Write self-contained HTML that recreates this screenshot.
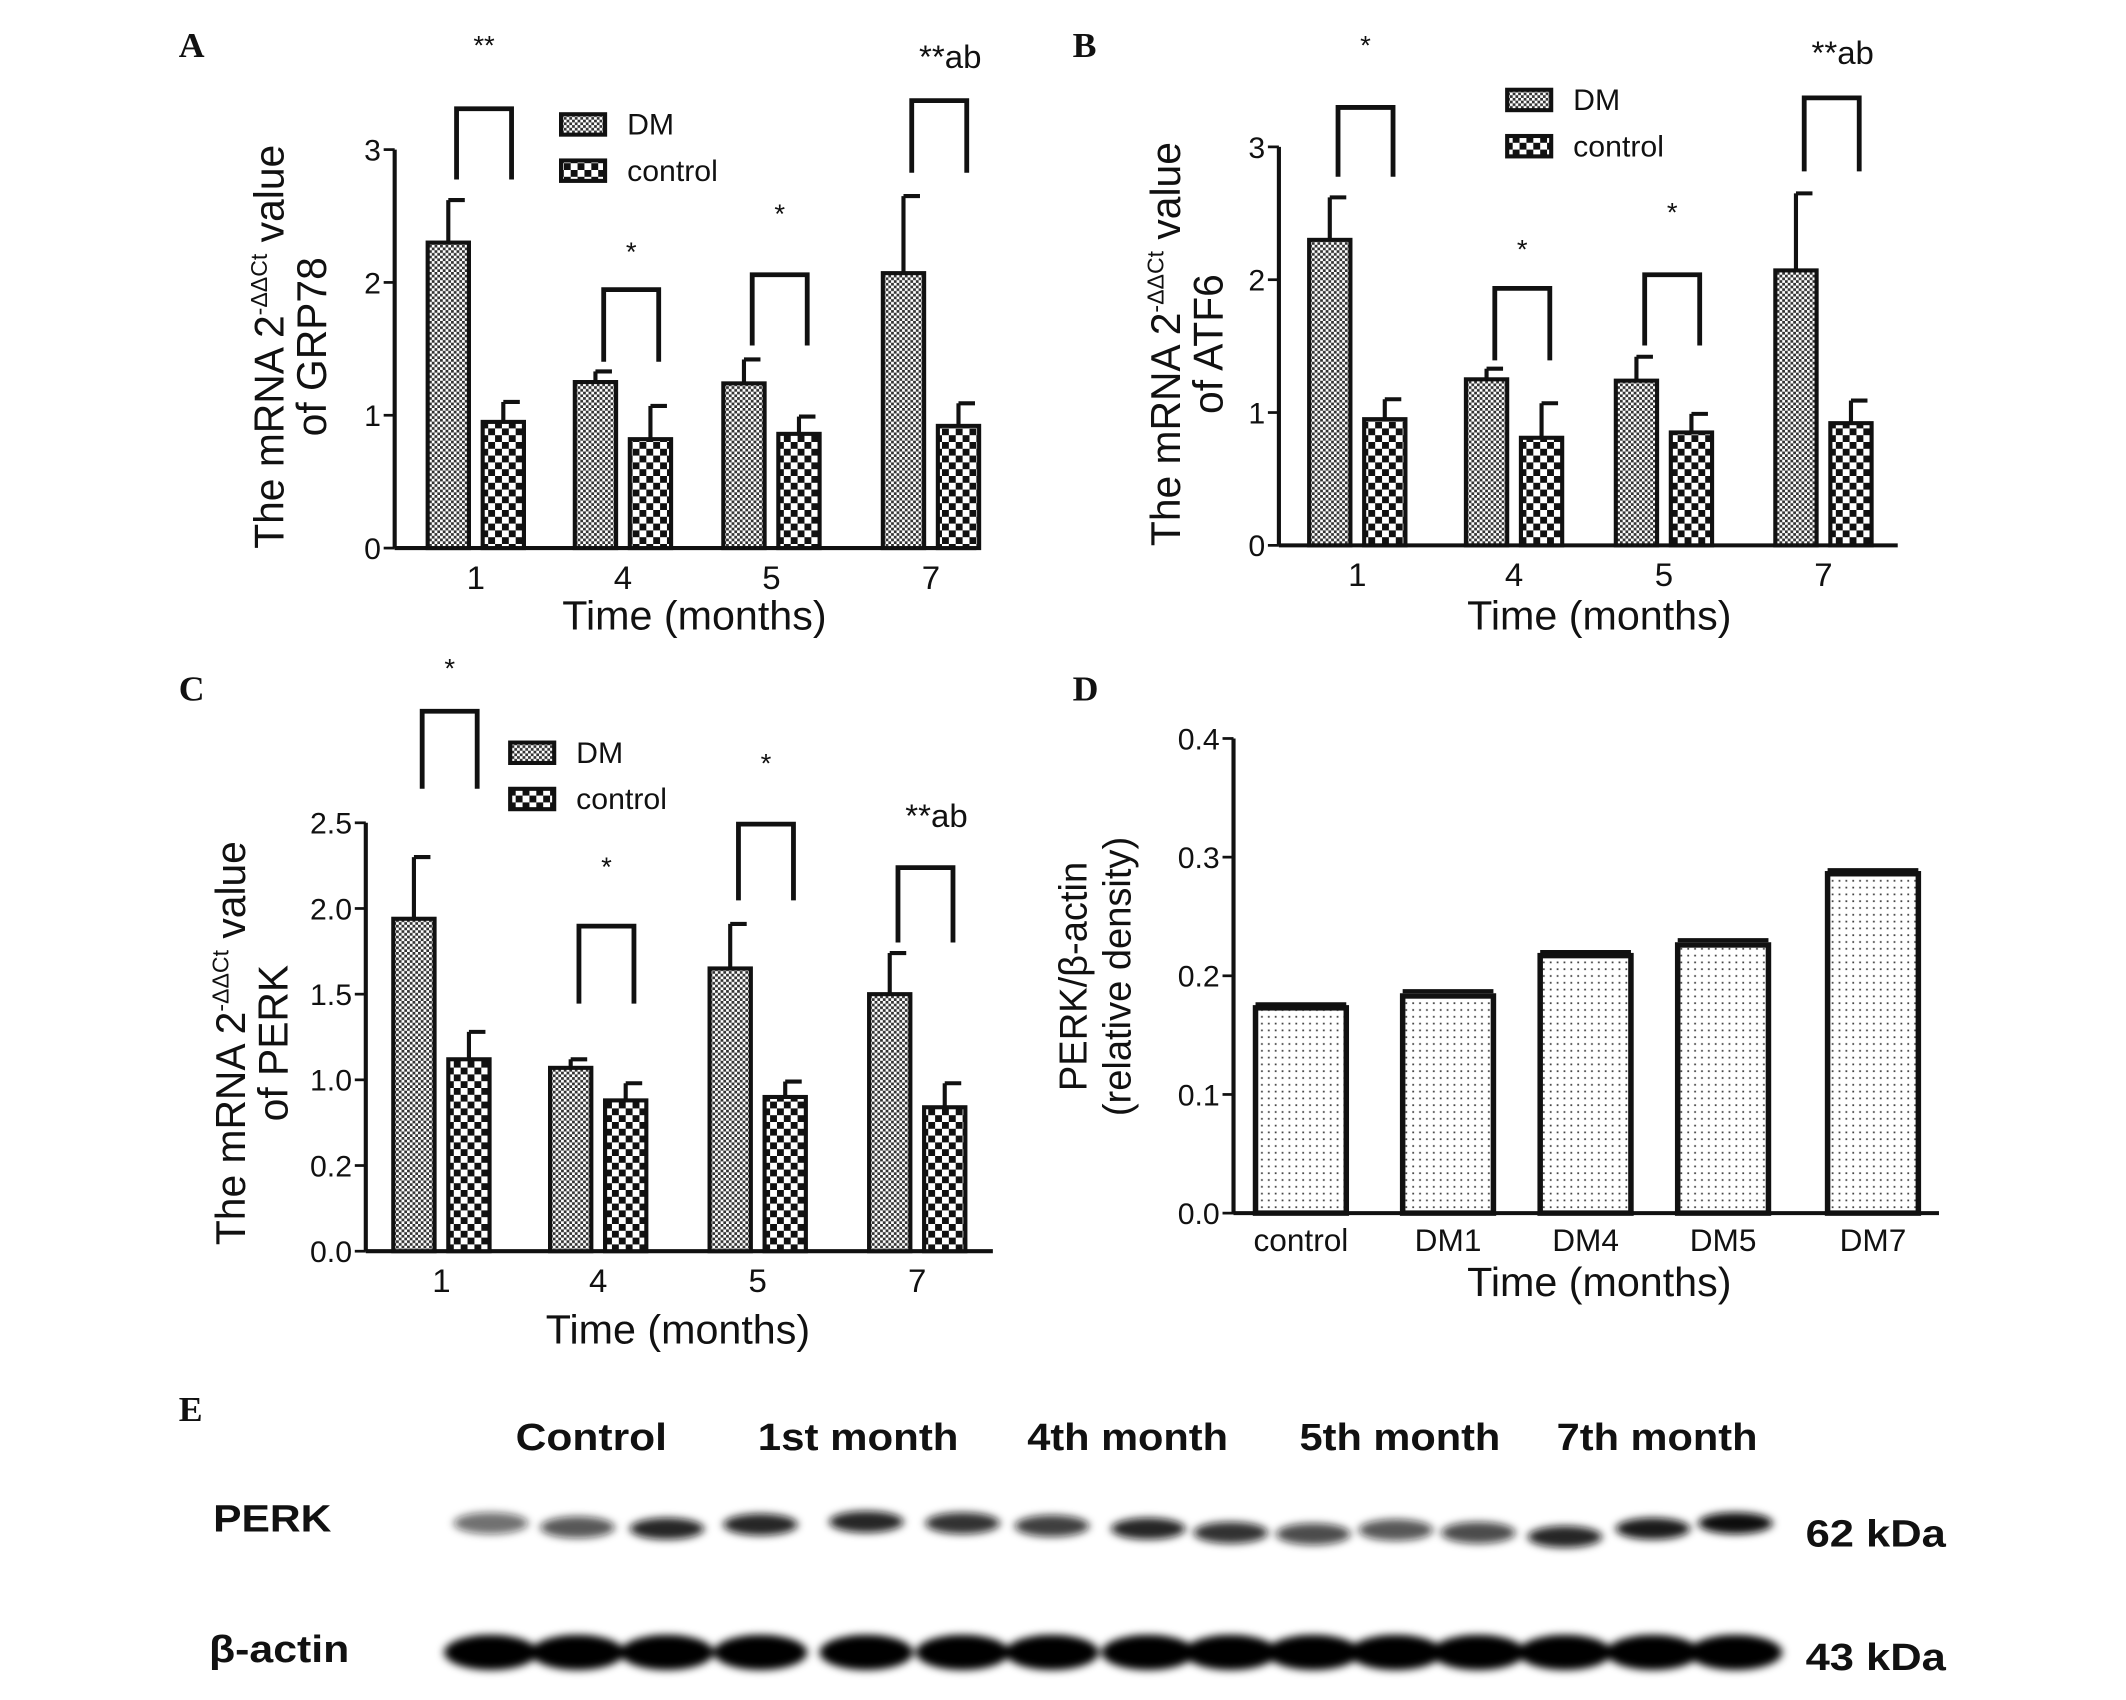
<!DOCTYPE html>
<html><head><meta charset="utf-8"><style>
html,body{margin:0;padding:0;background:#fff}
svg{display:block}
text{font-family:"Liberation Sans",sans-serif;fill:#111}
.lbl{font-family:"Liberation Serif",serif;font-weight:bold;font-size:26px}
</style></head><body>
<svg id="fig" width="2126" height="1700" viewBox="0 0 1546 1250" preserveAspectRatio="none">
<defs>
<pattern id="pDM" width="4" height="4" patternUnits="userSpaceOnUse"><rect width="4" height="4" fill="#fff"/><rect width="2" height="2" fill="#333"/><rect x="2" y="2" width="2" height="2" fill="#333"/></pattern>
<pattern id="pCT" width="10" height="10" patternUnits="userSpaceOnUse"><rect width="10" height="10" fill="#fff"/><rect width="5" height="5" fill="#111"/><rect x="5" y="5" width="5" height="5" fill="#111"/></pattern>
<pattern id="pDot" width="5" height="5" patternUnits="userSpaceOnUse"><rect width="5" height="5" fill="#fff"/><rect x="2" y="2" width="1.3" height="1.3" fill="#444"/></pattern>
<filter id="blur" x="-20%" y="-50%" width="140%" height="200%"><feGaussianBlur stdDeviation="3"/></filter>
</defs>
<g id="root"></g>
</svg>
<script>
const NS='http://www.w3.org/2000/svg';
const root=document.getElementById('root');
function mk(tag,attrs,parent,txt){const e=document.createElementNS(NS,tag);for(const k in attrs)e.setAttribute(k,attrs[k]);if(txt!==undefined)e.textContent=txt;(parent||root).appendChild(e);return e;}

// ---- data ----
const monthCats=['1','4','5','7'];
const grpDM=[2.30,1.25,1.24,2.07];
const grpDMErr=[2.62,1.33,1.42,2.65];
const grpCT=[0.95,0.82,0.86,0.92];
const grpCTErr=[1.10,1.07,0.99,1.09];
const grpSig=['**','*','*','**ab'];
const atfDM=[2.30,1.25,1.24,2.07];
const atfDMErr=[2.62,1.33,1.42,2.65];
const atfCT=[0.95,0.81,0.85,0.92];
const atfCTErr=[1.10,1.07,0.99,1.09];
const atfSig=['*','*','*','**ab'];
const perkDM=[1.94,1.07,1.65,1.50];
const perkDMErr=[2.30,1.12,1.91,1.74];
const perkCT=[1.12,0.88,0.90,0.84];
const perkCTErr=[1.28,0.98,0.99,0.98];
const perkSig=['*','*','*','**ab'];
const yTicks3=[0,1,2,3];
const yTicksC=[0,0.5,1.0,1.5,2.0,2.5];
const yTickLabelsC=['0.0','0.2','1.0','1.5','2.0','2.5'];
const densCats=['control','DM1','DM4','DM5','DM7'];
const densVals=[0.173,0.183,0.217,0.226,0.286];
const densErr=[0.176,0.187,0.220,0.230,0.289];
const yTicksD=[0,0.1,0.2,0.3,0.4];
const yTickLabelsD=['0.0','0.1','0.2','0.3','0.4'];

function panel(o){
  const g=mk('g',{});
  
  
  const y=v=>o.y0-(v-o.ymin)/(o.ymax-o.ymin)*(o.y0-o.ytop);
  mk('line',{x1:o.ax,y1:o.ytop,x2:o.ax,y2:o.y0,stroke:'#111','stroke-width':3},g);
  mk('line',{x1:o.ax,y1:o.y0,x2:o.axEnd,y2:o.y0,stroke:'#111','stroke-width':3},g);
  o.ticks.forEach((t,i)=>{
    mk('line',{x1:o.ax-8,y1:y(t),x2:o.ax,y2:y(t),stroke:'#111','stroke-width':2},g);
    const tx=mk('text',{x:o.ax-10,y:y(t)+8,'text-anchor':'end','font-size':22},g,o.tickLabels?o.tickLabels[i]:String(t));
    
    
  });
  return {g,y};
}

function groupedChart(o){
  const {g,y}=panel(o);
  o.cats.forEach((c,i)=>{
    const cx=o.centers[i];
    const bw=o.bw;
    const dx=cx-bw-5, tx=cx+5;
    mk('line',{x1:dx+bw/2,y1:y(o.dm[i]),x2:dx+bw/2,y2:y(o.dmErr[i]),stroke:'#111','stroke-width':3},g);
    mk('line',{x1:dx+bw/2,y1:y(o.dmErr[i]),x2:dx+bw/2+12,y2:y(o.dmErr[i]),stroke:'#111','stroke-width':3},g);
    const b1=mk('rect',{x:dx,y:y(o.dm[i]),width:bw,height:o.y0-y(o.dm[i]),fill:'url(#pDM)',stroke:'#111','stroke-width':3},g);
    
    
    mk('line',{x1:tx+bw/2,y1:y(o.ct[i]),x2:tx+bw/2,y2:y(o.ctErr[i]),stroke:'#111','stroke-width':3},g);
    mk('line',{x1:tx+bw/2,y1:y(o.ctErr[i]),x2:tx+bw/2+12,y2:y(o.ctErr[i]),stroke:'#111','stroke-width':3},g);
    const b2=mk('rect',{x:tx,y:y(o.ct[i]),width:bw,height:o.y0-y(o.ct[i]),fill:'url(#pCT)',stroke:'#111','stroke-width':3},g);
    
    
    const xl=mk('text',{x:cx,y:o.y0+30,'text-anchor':'middle','font-size':24},g,c);
    
    
    const bk=o.brackets[i];
    const p=mk('path',{d:`M${cx-14} ${bk[1]} V${bk[0]} H${cx+26} V${bk[1]}`,fill:'none',stroke:'#111','stroke-width':3.5},g);
    
    
    const s=mk('text',{x:cx+6+(o.sig[i].length>2?8:0),y:bk[2],'text-anchor':'middle','font-size':o.sig[i].length>2?24:20},g,o.sig[i]);
    
    
  });
  const L=o.legend;
  const l1=mk('rect',{x:L[0],y:L[1],width:32,height:15,fill:'url(#pDM)',stroke:'#111','stroke-width':3},g);
  
  mk('text',{x:L[0]+48,y:L[1]+15,'font-size':22},g,'DM');
  const l2=mk('rect',{x:L[0],y:L[1]+34,width:32,height:15,fill:'url(#pCT)',stroke:'#111','stroke-width':3},g);
  
  mk('text',{x:L[0]+48,y:L[1]+49,'font-size':22},g,'control');
  const xt=mk('text',{x:o.xtitle[0],y:o.xtitle[1],'text-anchor':'middle','font-size':30},g,'Time (months)');
  
  const yt=mk('text',{transform:`translate(${o.ytitle[0]},${o.ytitle[1]}) rotate(-90)`,'text-anchor':'middle','font-size':30},g);
  
  mk('tspan',{x:0,dy:0},yt,'The mRNA 2');
  mk('tspan',{dy:-12,'font-size':17},yt,'-ΔΔCt');
  mk('tspan',{dy:12},yt,' value');
  mk('tspan',{x:0,dy:31},yt,'of '+o.gene);
}

groupedChart({name:'panel-a-grp78',ax:287,axEnd:710,y0:403,ytop:110,ymin:0,ymax:3,ticks:yTicks3,
  cats:monthCats,centers:[346,453,561,677],bw:30,dm:grpDM,dmErr:grpDMErr,ct:grpCT,ctErr:grpCTErr,sig:grpSig,
  brackets:[[80,132,40],[213,266,192],[202,254,164],[74,127,50]],legend:[408,84],xtitle:[505,463],ytitle:[206,255],gene:'GRP78'});
groupedChart({name:'panel-b-atf6',ax:930,axEnd:1380,y0:401,ytop:108,ymin:0,ymax:3,ticks:yTicks3,
  cats:monthCats,centers:[987,1101,1210,1326],bw:30,dm:atfDM,dmErr:atfDMErr,ct:atfCT,ctErr:atfCTErr,sig:atfSig,
  brackets:[[79,130,40],[212,265,190],[202,254,163],[72,126,47]],legend:[1096,66],xtitle:[1163,463],ytitle:[858,253],gene:'ATF6'});
groupedChart({name:'panel-c-perk',ax:266,axEnd:722,y0:920,ytop:605,ymin:0,ymax:2.5,ticks:yTicksC,tickLabels:yTickLabelsC,
  cats:monthCats,centers:[321,435,551,667],bw:30,dm:perkDM,dmErr:perkDMErr,ct:perkCT,ctErr:perkCTErr,sig:perkSig,
  brackets:[[523,580,498],[681,738,644],[606,662,568],[638,693,608]],legend:[371,546],xtitle:[493,988],ytitle:[178,767],gene:'PERK'});

(function(){
  const o={name:'panel-d-perk-density',ax:897,axEnd:1410,y0:892,ytop:543,ymin:0,ymax:0.4,ticks:yTicksD,tickLabels:yTickLabelsD};
  const {g,y}=panel(o);
  const centers=[946,1053,1153,1253,1362];
  densCats.forEach((c,i)=>{
    const bw=66,x=centers[i]-bw/2;
    mk('line',{x1:x,y1:y(densErr[i]),x2:x+bw,y2:y(densErr[i]),stroke:'#111','stroke-width':3},g);
    const b=mk('rect',{x:x,y:y(densVals[i]),width:bw,height:o.y0-y(densVals[i]),fill:'url(#pDot)',stroke:'#111','stroke-width':4},g);
    
    
    const t=mk('text',{x:centers[i],y:920,'text-anchor':'middle','font-size':23},g,c);
    
    
  });
  const xt=mk('text',{x:1163,y:953,'text-anchor':'middle','font-size':30},g,'Time (months)');
  
  const yt=mk('text',{transform:'translate(790,718) rotate(-90)','text-anchor':'middle','font-size':28},g);
  
  mk('tspan',{x:0,dy:0},yt,'PERK/β-actin');
  mk('tspan',{x:0,dy:32},yt,'(relative density)');
})();

[['A',130,42],['B',780,42],['C',130,515],['D',780,515],['E',130,1045]].forEach(p=>{
  const t=mk('text',{x:p[1],y:p[2],class:'lbl'},root,p[0]);
  
  
});

const blotHeaders=['Control','1st month','4th month','5th month','7th month'];
const blotHeaderX=[430,624,820,1018,1205];
const laneX=[357,420,485,553,630,700,765,835,895,955,1015,1075,1138,1202,1262];
const perkInt=[0.6,0.7,0.9,0.9,0.9,0.85,0.8,0.9,0.85,0.75,0.7,0.75,0.9,0.95,1.0];
const perkY=[1120,1123,1124,1121,1119,1120,1122,1124,1127,1128,1125,1127,1130,1124,1120];
const actinInt=[1,1,1,1,1,1,1,1,1,1,1,1,1,1,1];
(function(){
  const g=mk('g',{});
  
  
  blotHeaders.forEach((h,i)=>{
    const t=mk('text',{x:blotHeaderX[i],y:1066,'text-anchor':'middle','font-size':28,'font-weight':'bold',textLength:h.length>7?146:110,lengthAdjust:'spacingAndGlyphs'},g,h);
    
    
  });
  const bl=mk('g',{filter:'url(#blur)'},g);
  laneX.forEach((x,i)=>{
    const b=mk('ellipse',{cx:x,cy:perkY[i],rx:27,ry:8,fill:'#111','fill-opacity':perkInt[i]},bl);
    
    
    const a=mk('ellipse',{cx:x,cy:1215,rx:34,ry:13,fill:'#000','fill-opacity':actinInt[i]},bl);
    
    
  });
  [['PERK',155,1126,86],['β-actin',152,1222,102]].forEach(p=>{
    const t=mk('text',{x:p[1],y:p[2],'font-size':28,'font-weight':'bold',textLength:p[3],lengthAdjust:'spacingAndGlyphs'},g,p[0]);
    
  });
  [['62 kDa',1313,1137],['43 kDa',1313,1228]].forEach(p=>{
    const t=mk('text',{x:p[1],y:p[2],'font-size':28,'font-weight':'bold',textLength:102,lengthAdjust:'spacingAndGlyphs'},g,p[0]);
    
  });
})();
</script>
</body></html>
